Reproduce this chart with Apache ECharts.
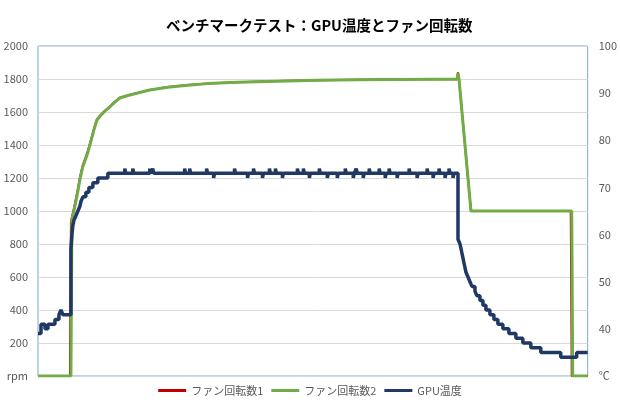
<!DOCTYPE html>
<html><head><meta charset="utf-8">
<script src="https://cdn.jsdelivr.net/npm/echarts@6/dist/echarts.min.js"></script>
<style>html,body{margin:0;padding:0;background:#fff}#c{width:620px;height:405px}</style>
</head><body><div id="c"></div>
<script>
// Data (t = sample index along the time axis)
const titleText = 'ベンチマークテスト：GPU温度とファン回転数';
const seriesNames = ['ファン回転数1', 'ファン回転数2', 'GPU温度'];
const rpmTicks = [0, 2000, 200];
const tempTicks = [30, 100, 10];

const fan1Time = [0, 32, 33, 34, 36, 38, 40, 42, 45, 48, 50, 53, 56, 59, 63, 67, 72, 77, 82, 90, 100, 112, 130, 150, 170, 200, 240, 280, 320, 360, 400, 420, 421, 422, 434, 534, 535, 551];
const fan1 = [0, 0, 930, 965, 1015, 1075, 1135, 1205, 1280, 1330, 1365, 1430, 1497, 1555, 1584, 1608, 1633, 1662, 1686, 1701, 1716, 1734, 1751, 1763, 1773, 1781, 1788, 1793, 1796, 1798, 1799, 1799, 1840, 1800, 1000, 1000, 0, 0];

const fan2Time = [0, 33, 34, 36, 38, 40, 42, 45, 48, 50, 53, 56, 59, 63, 67, 72, 77, 82, 90, 100, 112, 130, 150, 170, 200, 240, 280, 320, 360, 400, 420, 421, 422, 434, 535, 536, 551];
const fan2 = [0, 0, 950, 1000, 1060, 1120, 1190, 1270, 1320, 1355, 1420, 1490, 1550, 1580, 1605, 1630, 1660, 1685, 1700, 1715, 1733, 1750, 1762, 1772, 1780, 1787, 1792, 1795, 1797, 1798, 1798, 1835, 1800, 1000, 1000, 0, 0];

const gpuTime = [0, 3, 7, 10, 17, 21, 23, 25, 33, 34, 35, 36, 38, 40, 42, 43, 45, 48, 51, 55, 60, 70,
  87, 88, 95, 96, 112, 113, 115, 116, 147, 148, 152, 153, 169, 170, 176, 177, 197, 198, 210, 211, 216, 217, 225, 226,
  232, 233, 238, 239, 245, 246, 260, 261, 266, 267, 272, 273, 282, 283, 290, 291, 300, 301, 308, 309, 316, 317,
  319, 320, 326, 327, 332, 333, 342, 343, 348, 349, 352, 353, 360, 361, 372, 373, 380, 381, 390, 391, 396, 397,
  402, 403, 408, 409, 412, 413, 416, 417,
  421, 423, 424, 425, 426, 427, 428, 429, 431, 433, 435, 438, 440, 443, 446, 449, 453, 457, 461, 466, 472, 479, 486, 494, 504, 524, 540, 551];
const gpuTemp = [39, 41, 40, 41, 42, 43, 44, 43, 57, 60, 62, 63, 64, 65, 66, 67, 68, 69, 70, 71, 72, 73,
  74, 73, 74, 73, 74, 73, 74, 73, 74, 73, 74, 73, 74, 73, 72, 73, 74, 73, 72, 73, 74, 73, 72, 73,
  74, 73, 74, 73, 72, 73, 74, 73, 74, 73, 72, 73, 74, 73, 72, 73, 72, 73, 74, 73, 72, 73,
  74, 73, 72, 73, 74, 73, 74, 73, 72, 73, 74, 73, 72, 73, 74, 73, 72, 73, 74, 73, 72, 73,
  74, 73, 72, 73, 74, 73, 72, 73,
  59, 58, 57, 56, 55, 54, 53, 52, 51, 50, 49, 48, 47, 46, 45, 44, 43, 42, 41, 40, 39, 38, 37, 36, 35, 34, 35, 35];

const zip = (a, b) => a.map((t, i) => [t, b[i]]);
const font = '"Noto Sans CJK JP", "Noto Sans", sans-serif';
const chart = echarts.init(document.getElementById('c'), null, {renderer: 'canvas'});
chart.setOption({
  animation: false,
  backgroundColor: '#ffffff',
  title: {
    text: titleText, left: 161, top: 13,
    textStyle: {fontFamily: font, fontSize: 14.5, fontWeight: 'bold', color: '#000000'}
  },
  legend: {
    bottom: 4, left: 'center', icon: 'rect', itemWidth: 28, itemHeight: 3, itemGap: 8,
    textStyle: {fontFamily: font, fontSize: 11, color: '#595959'},
    data: seriesNames
  },
  grid: {left: 38, right: 31, top: 46, bottom: 29, show: true, borderColor: '#7fa7cc', borderWidth: 1},
  xAxis: {
    type: 'value', min: 0, max: 551,
    axisLine: {show: false}, axisTick: {show: false}, axisLabel: {show: false}, splitLine: {show: false}
  },
  yAxis: [
    {
      type: 'value', min: rpmTicks[0], max: rpmTicks[1], interval: rpmTicks[2],
      axisLine: {show: false}, axisTick: {show: false},
      axisLabel: {fontFamily: font, fontSize: 11, color: '#595959', margin: 10,
        formatter: v => v === 0 ? 'rpm' : String(v)},
      splitLine: {show: true, lineStyle: {color: '#d9d9d9', width: 1}}
    },
    {
      type: 'value', min: tempTicks[0], max: tempTicks[1], interval: tempTicks[2],
      axisLine: {show: false}, axisTick: {show: false},
      axisLabel: {fontFamily: font, fontSize: 11, color: '#595959', margin: 11,
        formatter: v => v === 30 ? '℃' : String(v)},
      splitLine: {show: false}
    }
  ],
  series: [
    {name: seriesNames[0], type: 'line', yAxisIndex: 0, data: zip(fan1Time, fan1), showSymbol: false,
      lineStyle: {color: '#c00000', width: 2}, itemStyle: {color: '#c00000'}, z: 2},
    {name: seriesNames[1], type: 'line', yAxisIndex: 0, data: zip(fan2Time, fan2), showSymbol: false,
      lineStyle: {color: '#70ad47', width: 3}, itemStyle: {color: '#70ad47'}, z: 3},
    {name: seriesNames[2], type: 'line', yAxisIndex: 1, step: 'end', data: zip(gpuTime, gpuTemp), showSymbol: false,
      lineStyle: {color: '#203864', width: 3.5}, itemStyle: {color: '#203864'}, z: 4}
  ]
});
</script></body></html>
